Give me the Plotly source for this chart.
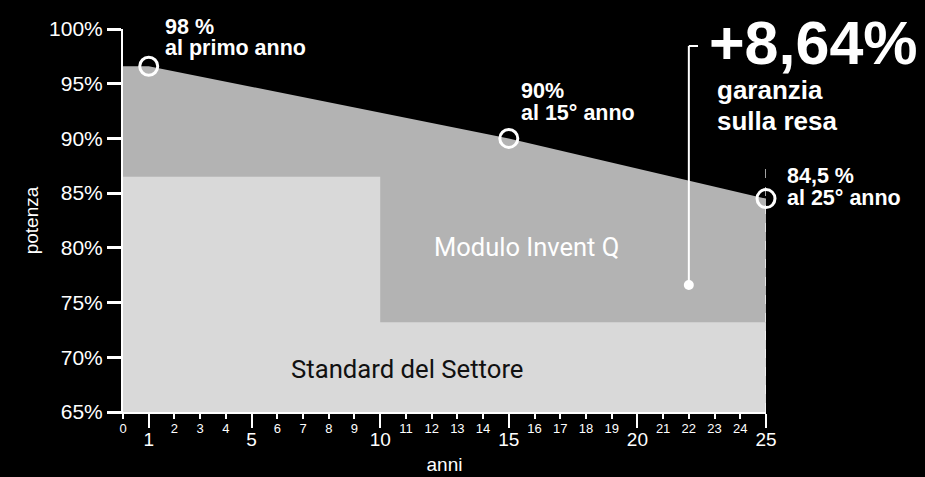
import plotly.graph_objects as go

# ---- data ----
years_invent = [0, 1, 15, 25]
invent_q = [96.6, 96.6, 90.0, 84.5]
years_std = [0, 10, 25]
standard = [86.5, 73.2, 73.2]
milestone_years = [1, 15, 25]
milestone_vals = [96.6, 90.0, 84.5]
milestone_top = ["98 %", "90%", "84,5 %"]
milestone_bottom = ["al primo anno", "al 15° anno", "al 25° anno"]
major_ticks = [1, 5, 10, 15, 20, 25]
minor_ticks = [0, 2, 3, 4, 6, 7, 8, 9, 11, 12, 13, 14, 16, 17, 18, 19, 21, 22, 23, 24]
y_ticks = [65, 70, 75, 80, 85, 90, 95, 100]
y_labels = [f"{v}%" for v in y_ticks]
headline = "+8,64%"
headline_sub = ["garanzia", "sulla resa"]
guarantee_year = 22
guarantee_val = 76.6

W, H = 925, 477
L, R, T, B = 123, 159, 29, 65
PW, PH = W - L - R, H - T - B
XR = [0, 25]
YR = [65, 100]


def X(px):
    return XR[0] + (px - L) / PW * (XR[1] - XR[0])


def Y(py):
    return YR[1] - (py - T) / PH * (YR[1] - YR[0])


def PX(px):
    return (px - L) / PW


def PY(py):
    return 1 - (py - T) / PH


SANS = "Liberation Sans, Arial, sans-serif"
WHITE = "#ffffff"

fig = go.Figure()
fig.add_trace(go.Scatter(x=years_invent, y=invent_q, mode="lines", line=dict(width=0, color="#b3b3b3"),
                         fill="tozeroy", fillcolor="#b3b3b3", hoverinfo="skip", showlegend=False))
fig.add_trace(go.Scatter(x=years_std, y=standard, mode="lines", line=dict(width=0, color="#d9d9d9", shape="hv"),
                         fill="tozeroy", fillcolor="#d9d9d9", hoverinfo="skip", showlegend=False))
fig.add_trace(go.Scatter(x=[guarantee_year], y=[guarantee_val], mode="markers", xaxis="x2",
                         marker=dict(size=10, color=WHITE), showlegend=False, hoverinfo="skip"))
fig.add_trace(go.Scatter(x=milestone_years, y=milestone_vals, mode="markers", cliponaxis=False,
                         marker=dict(symbol="circle-open", size=18, line=dict(width=3, color=WHITE), color=WHITE),
                         showlegend=False))

shapes = [
    dict(type="line", xref="x", yref="y", x0=25, x1=25, y0=YR[0], y1=Y(165),
         line=dict(color="rgba(255,255,255,0.85)", width=1.5, dash="dash")),
    dict(type="line", xref="x", yref="y", x0=guarantee_year, x1=guarantee_year, y0=guarantee_val, y1=Y(46),
         line=dict(color=WHITE, width=2)),
    dict(type="line", xref="x", yref="y", x0=guarantee_year, x1=X(698), y0=Y(46), y1=Y(46),
         line=dict(color=WHITE, width=2)),
]


def A(px, py, text, size, color=WHITE, bold=True, family=SANS, xanchor="left"):
    return dict(x=PX(px), y=PY(py), text=text, xref="paper", yref="paper", xanchor=xanchor, yanchor="middle",
                showarrow=False,
                font=dict(family=family, size=size, color=color, weight="bold" if bold else "normal"))


ann = []
label_pos = [(163, 27, 48), (519, 91, 113), (785, 176, 198)]
for (px, py1, py2), t1, t2 in zip(label_pos, milestone_top, milestone_bottom):
    ann.append(A(px, py1, t1, 21.5))
    ann.append(A(px, py2, t2, 21.5))

ann.append(A(707, 43, headline, 61))
for py, t in zip([90, 121], headline_sub):
    ann.append(A(715, py, t, 26))

ann.append(A(526, 247, "Modulo Invent Q", 25.5, bold=False, family="Roboto", xanchor="center"))
ann.append(A(407, 369, "Standard del Settore", 25.7, color="#111111", bold=False, family="Roboto",
             xanchor="center"))

fig.update_layout(
    width=W, height=H,
    margin=dict(l=L, r=R, t=T, b=B, autoexpand=False),
    paper_bgcolor="#000000", plot_bgcolor="#000000",
    showlegend=False,
    shapes=shapes,
    annotations=ann,
    xaxis=dict(range=XR, tickmode="array", tickvals=major_ticks, ticktext=[str(v) for v in major_ticks],
               ticks="outside", ticklen=14, tickwidth=2, tickcolor=WHITE, ticklabelstandoff=-5,
               tickfont=dict(family=SANS, size=19, color=WHITE), automargin=False,
               showline=True, linecolor=WHITE, linewidth=2, showgrid=False, zeroline=False,
               title=dict(text="anni", font=dict(family=SANS, size=19, color=WHITE), standoff=9),
               fixedrange=True),
    xaxis2=dict(range=XR, overlaying="x", anchor="y", side="bottom", tickmode="array",
                tickvals=minor_ticks, ticktext=[str(v) for v in minor_ticks],
                ticks="outside", ticklen=6, tickwidth=2, tickcolor=WHITE, ticklabelstandoff=-2,
                tickfont=dict(family=SANS, size=13, color=WHITE), automargin=False,
                showline=False, showgrid=False, zeroline=False, fixedrange=True),
    yaxis=dict(range=YR, tickmode="array", tickvals=y_ticks, ticktext=y_labels,
               ticks="outside", ticklen=14, tickwidth=2.5, tickcolor=WHITE,
               tickfont=dict(family=SANS, size=21, color=WHITE), automargin=False,
               showline=True, linecolor=WHITE, linewidth=2, showgrid=False, zeroline=False,
               title=dict(text="potenza", font=dict(family=SANS, size=19, color=WHITE), standoff=5),
               fixedrange=True),
)

fig.write_html("out.html", config={"displayModeBar": False},
               post_script="document.body.style.margin='0';document.body.style.overflow='hidden';")
